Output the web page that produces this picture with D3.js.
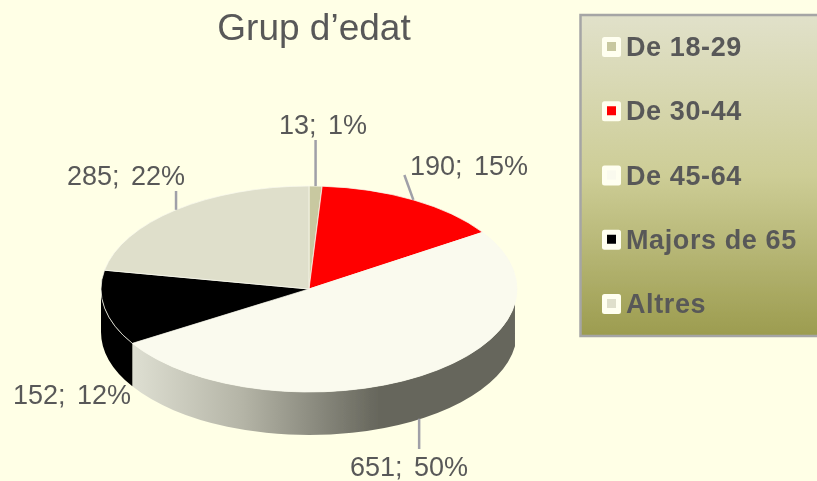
<!DOCTYPE html>
<html>
<head>
<meta charset="utf-8">
<script src="https://cdn.jsdelivr.net/npm/d3@7"></script>
<style>
  html, body { margin: 0; background: #ffffe6; overflow: hidden; }
  text { font-family: "Liberation Sans", Arial, sans-serif; fill: #595959; }
</style>
</head>
<body>
<script>
const categories = ['De 18-29', 'De 30-44', 'De 45-64', 'Majors de 65', 'Altres']
const values = [13, 190, 651, 152, 285]
const sliceColors = ['#c8c8a0', '#ff0000', '#fafaee', '#000000', '#dfdfcb']

const WIDTH = 817
const HEIGHT = 481
const CX = 309
const CY = 289
const RX = 208
const RY = 103
const DEPTH = 43
const WALL_START = 98 * Math.PI / 180

// baseline of each label and end of its leader
const labelLayout = [
  { x: 323, y: 134, anchor: 'middle', leaderTo: [0, 140] },
  { x: 410, y: 175, anchor: 'start', leaderTo: [-9, 175] },
  { x: 409, y: 476, anchor: 'middle', footShift: -2, leaderTo: [-2, 449] },
  { x: 131, y: 404, anchor: 'end' },
  { x: 185, y: 185, anchor: 'end', leaderTo: [0, 191] }
]

const total = d3.sum(values)
const pct = d3.format('.0%')
const slices = d3.pie().sort(null).startAngle(0).endAngle(2 * Math.PI)(values)
const squash = RY / RX
const depthUnscaled = DEPTH / squash

const svg = d3.select('body').append('svg')
  .attr('width', WIDTH)
  .attr('height', HEIGHT)

const defs = svg.append('defs')

defs.append('filter').attr('id', 'soft')
  .append('feGaussianBlur').attr('stdDeviation', 0.45)

const legendGrad = defs.append('linearGradient')
  .attr('id', 'legendGrad').attr('x1', 0).attr('y1', 0).attr('x2', 0).attr('y2', 1)
legendGrad.append('stop').attr('offset', '0%').attr('stop-color', '#e1e1ca')
legendGrad.append('stop').attr('offset', '50%').attr('stop-color', '#cdcd96')
legendGrad.append('stop').attr('offset', '100%').attr('stop-color', '#9c9c4f')

const wallGrad = defs.append('linearGradient')
  .attr('id', 'wallGrad').attr('gradientUnits', 'userSpaceOnUse')
  .attr('x1', -177).attr('y1', 0).attr('x2', 70).attr('y2', 0)
wallGrad.append('stop').attr('offset', '0%').attr('stop-color', '#dedfd2')
wallGrad.append('stop').attr('offset', '45%').attr('stop-color', '#b4b4a6')
wallGrad.append('stop').attr('offset', '100%').attr('stop-color', '#66665c')

const root = svg.append('g').attr('filter', 'url(#soft)')

root.append('text')
  .attr('x', 314).attr('y', 40)
  .attr('text-anchor', 'middle')
  .attr('font-size', 37)
  .text('Grup d’edat')

const pie = root.append('g')
  .attr('transform', `translate(${CX},${CY}) scale(1,${squash})`)

// side wall, only the front half of the pie is visible
const wallPath = (a0, a1) => {
  const p = d3.path()
  const s = a0 - Math.PI / 2
  const e = a1 - Math.PI / 2
  p.arc(0, 0, RX, s, e)
  p.lineTo(RX * Math.cos(e), RX * Math.sin(e) + depthUnscaled)
  p.arc(0, depthUnscaled, RX, e, s, true)
  p.closePath()
  return p.toString()
}

const front = slices
  .map((d, i) => ({
    a0: Math.max(d.startAngle, WALL_START),
    a1: Math.min(d.endAngle, 1.5 * Math.PI),
    i
  }))
  .filter(d => d.a1 > d.a0)

pie.selectAll('path.wall')
  .data(front)
  .join('path')
  .attr('class', 'wall')
  .attr('d', d => wallPath(d.a0, d.a1))
  .attr('fill', d => sliceColors[d.i] === '#000000' ? '#000000' : 'url(#wallGrad)')

const arc = d3.arc().innerRadius(0).outerRadius(RX)

pie.selectAll('path.top')
  .data(slices)
  .join('path')
  .attr('class', 'top')
  .attr('d', arc)
  .attr('fill', (d, i) => sliceColors[i])
  .attr('stroke', '#fafaee')
  .attr('stroke-width', 1)

// leaders and labels
const rim = d => {
  const a = (d.startAngle + d.endAngle) / 2
  const y = CY - RY * Math.cos(a)
  return [CX + RX * Math.sin(a), Math.cos(a) < 0 ? y + DEPTH : y]
}

root.append('g').selectAll('line')
  .data(slices.filter((d, i) => labelLayout[i].leaderTo))
  .join('line')
  .attr('x1', d => rim(d)[0] + (labelLayout[d.index].footShift || 0))
  .attr('y1', d => rim(d)[1])
  .attr('x2', d => rim(d)[0] + labelLayout[d.index].leaderTo[0])
  .attr('y2', d => labelLayout[d.index].leaderTo[1])
  .attr('stroke', '#a0a0a8')
  .attr('stroke-width', 2.5)

root.append('g').selectAll('text')
  .data(slices)
  .join('text')
  .attr('x', d => labelLayout[d.index].x)
  .attr('y', d => labelLayout[d.index].y)
  .attr('text-anchor', d => labelLayout[d.index].anchor)
  .attr('font-size', 27)
  .attr('word-spacing', 4)
  .text(d => `${d.value}; ${pct(d.value / total)}`)

// legend
root.append('rect')
  .attr('x', 580.5).attr('y', 15)
  .attr('width', 245).attr('height', 321)
  .attr('fill', 'url(#legendGrad)')
  .attr('stroke', '#a5a5a5')
  .attr('stroke-width', 2.5)

const legendY = d3.scalePoint().domain(categories).range([47, 304])

const rows = root.append('g').selectAll('g')
  .data(categories)
  .join('g')
  .attr('transform', d => `translate(0,${legendY(d)})`)

rows.append('rect')
  .attr('x', 602).attr('y', -10)
  .attr('width', 19).attr('height', 20)
  .attr('rx', 2.5)
  .attr('fill', '#fffff0')

rows.append('rect')
  .attr('x', 607).attr('y', -5)
  .attr('width', 9).attr('height', 9)
  .attr('fill', (d, i) => sliceColors[i])

rows.append('text')
  .attr('x', 626).attr('y', 9)
  .attr('font-size', 27)
  .attr('font-weight', 'bold')
  .attr('letter-spacing', 0.6)
  .text(d => d)
</script>
</body>
</html>
